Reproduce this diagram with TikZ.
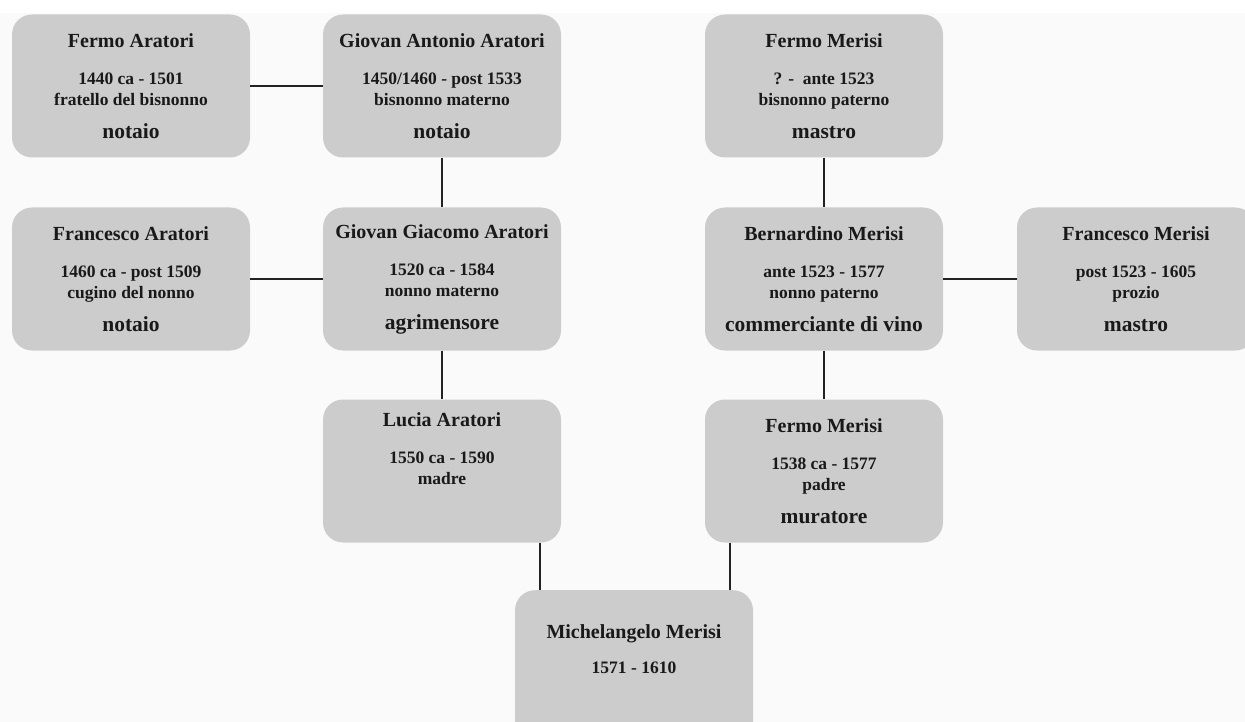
\documentclass[tikz,border=0pt]{standalone}
\usepackage{fontspec}
\setmainfont{Liberation Serif}
\usetikzlibrary{positioning,calc}

\definecolor{boxgray}{RGB}{204,204,204}
\definecolor{bggray}{RGB}{250,250,250}
\definecolor{linegray}{RGB}{34,34,34}
\newcommand{\pname}[1]{{\fontsize{20}{24}\selectfont #1}}
\newcommand{\pjob}[1]{{\fontsize{21.5}{26}\selectfont #1}}

\tikzset{
  person/.style={fill=boxgray, rounded corners=20pt, minimum width=238pt,
    minimum height=143pt, align=center, inner sep=0pt, text=black!90,
    font=\bfseries\fontsize{17.5}{21}\selectfont},
  link/.style={draw=linegray, line width=1.8pt}
}

\begin{document}
\begin{tikzpicture}[x=1pt,y=-1pt]

%Background
\fill[bggray] (0,0) rectangle (1245,722);
\fill[white] (0,0) rectangle (1245,13);
\useasboundingbox (0,0) rectangle (1245,722);

%Box centres
\def\ca{131}
\def\cb{442}
\def\cc{824}
\def\cd{1136}
\coordinate (P11) at (\ca,86);
\coordinate (P12) at (\cb,86);
\coordinate (P13) at (\cc,86);
\coordinate (P21) at (\ca,279);
\coordinate (P22) at (\cb,279);
\coordinate (P23) at (\cc,279);
\coordinate (P24) at (\cd,279);
\coordinate (P32) at (\cb,471);
\coordinate (P33) at (\cc,471);
\coordinate (P4) at (634,590);

%Maternal side
\node[person] (fermoA) at (P11) {\pname{Fermo Aratori}\\[16pt] 1440 ca - 1501\\ fratello del bisnonno\\[12pt] \pjob{notaio}};
\node[person] (giovanA) at (P12) {\pname{Giovan Antonio Aratori}\\[16pt] 1450/1460 - post 1533\\ bisnonno materno\\[12pt] \pjob{notaio}};
\node[person] (francescoA) at (P21) {\pname{Francesco Aratori}\\[16pt] 1460 ca - post 1509\\ cugino del nonno\\[12pt] \pjob{notaio}};
\node[person] (giovanG) at (P22) {\pname{Giovan Giacomo Aratori}\\[16pt] 1520 ca - 1584\\ nonno materno\\[12pt] \pjob{agrimensore}};
\node[person] (lucia) at (P32) {\pname{Lucia Aratori}\\[16pt] 1550 ca - 1590\\ madre\\[24pt] \pjob{\phantom{notaio}}};

%Paternal side
\node[person] (fermoM) at (P13) {\pname{Fermo Merisi}\\[16pt] ? -\ \ ante 1523\\ bisnonno paterno\\[12pt] \pjob{mastro}};
\node[person] (bernardino) at (P23) {\pname{Bernardino Merisi}\\[16pt] ante 1523 - 1577\\ nonno paterno\\[12pt] \pjob{commerciante di vino}};
\node[person] (francescoM) at (P24) {\pname{Francesco Merisi}\\[16pt] post 1523 - 1605\\ prozio\\[12pt] \pjob{mastro}};
\node[person] (padre) at (P33) {\pname{Fermo Merisi}\\[16pt] 1538 ca - 1577\\ padre\\[12pt] \pjob{muratore}};

%Michelangelo
\node[person, anchor=north, inner ysep=34pt, text depth=70pt] (michelangelo) at (P4) {\pname{Michelangelo Merisi}\\[14pt] 1571 - 1610};

%Links
\draw[link] (fermoA) -- (giovanA);
\draw[link] (francescoA) -- (giovanG);
\draw[link] (bernardino) -- (francescoM);
\draw[link] (giovanA) -- (giovanG);
\draw[link] (giovanG) -- (lucia);
\draw[link] (fermoM) -- (bernardino);
\draw[link] (bernardino) -- (padre);
\draw[link] ([xshift=98pt]lucia.south) -- ([xshift=98pt]lucia.south |- michelangelo.north);
\draw[link] ([xshift=-94pt]padre.south) -- ([xshift=-94pt]padre.south |- michelangelo.north);

\end{tikzpicture}
\end{document}
